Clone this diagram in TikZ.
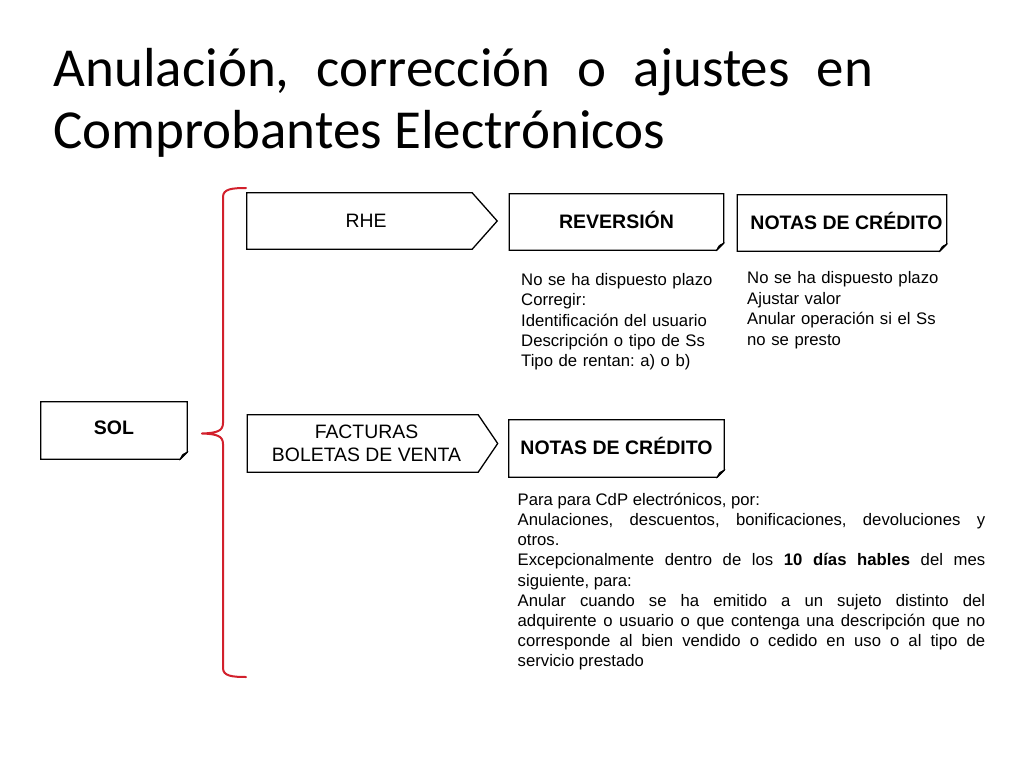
\documentclass[tikz,border=0pt]{standalone}
\usepackage{fontspec}
\setmainfont{Liberation Sans}
\newfontfamily\titlefont{Carlito}
\usetikzlibrary{calc}
\frenchspacing
\definecolor{bracered}{RGB}{210,32,44}
\tikzset{
  boxline/.style={draw=black, line width=1.3bp, line join=miter},
  headtext/.style={font=\fontsize{19.5bp}{23bp}\selectfont\bfseries, inner sep=0pt, text depth=5bp},
  arrowtext/.style={font=\fontsize{19.4bp}{23.5bp}\selectfont, inner sep=0pt, align=center},
  bodytext/.style={font=\fontsize{16.7bp}{20.4bp}\selectfont, inner sep=0pt, anchor=north west, align=left},
  titletext/.style={font=\titlefont\fontsize{55bp}{60bp}\selectfont, inner sep=0pt, anchor=base west},
  bracestyle/.style={draw=bracered, line width=2bp, line cap=round, line join=round},
}
\newcommand\drawfold[1]{%
  \draw[boxline] (#1.north west) -- (#1.north east) -- ([yshift=7bp]#1.south east) -- ([xshift=-7bp]#1.south east) -- (#1.south west) -- cycle;
  \filldraw[black, line width=0.6bp] ([xshift=-7bp]#1.south east) .. controls ([xshift=-5bp,yshift=5bp]#1.south east) .. ([yshift=7bp]#1.south east) -- cycle;
}
\newcommand\drawarrowbox[3]{%
  \draw[boxline] (#1.north west) -- ([xshift=#2]#1.north east) -- ([xshift=#3]#1.east) -- ([xshift=#2]#1.south east) -- (#1.south west) -- cycle;
}
\begin{document}
\begin{tikzpicture}[x=1bp,y=-1bp]
\fill[white] (0,0) rectangle (1024,768);
\useasboundingbox (0,0) rectangle (1024,768);

% title
\node[titletext] (t1) at (53.5,87) {\makebox[819.5bp][l]{Anulación,\hfill corrección\hfill o\hfill ajustes\hfill en}};
\node[titletext] (t2) at (53,148) {Comprobantes Electrónicos};

% boxes
\node[headtext, minimum width=146bp, minimum height=57bp] (sol) at (114,430.5) {SOL};
\drawfold{sol}

\node[arrowtext, minimum width=238bp, minimum height=56bp] (rhe) at (366,221) {RHE};
\drawarrowbox{rhe}{-13bp}{12bp}

\node[arrowtext, minimum width=238bp, minimum height=57bp] (fac) at (366.5,443.5) {FACTURAS\\BOLETAS DE VENTA};
\drawarrowbox{fac}{-7.5bp}{12bp}

\node[headtext, minimum width=214bp, minimum height=56bp] (rev) at (616.5,222) {REVERSIÓN};
\drawfold{rev}

\node[headtext, minimum width=209bp, minimum height=56bp] (nc1) at (842,223) {\hspace*{9bp}NOTAS DE CRÉDITO};
\drawfold{nc1}

\node[headtext, minimum width=215bp, minimum height=57bp] (nc2) at (616.5,448.5) {NOTAS DE CRÉDITO};
\drawfold{nc2}

% brace
\draw[bracestyle] (246,188) .. controls (232,188) and (223,189) .. (223,197) -- (223,423)
  .. controls (223,431) and (217,433) .. (202,433.5)
  .. controls (217,434) and (223,436) .. (223,444) -- (223,668)
  .. controls (223,676) and (232,677) .. (246,677);

% body texts
\node[bodytext, text width=260bp] (revtxt) at (521,271) {\rule{0pt}{14bp}No se ha dispuesto plazo\\Corregir:\\Identificación del usuario\\Descripción o tipo de Ss\\Tipo de rentan: a) o b)};

\node[bodytext, text width=260bp, font=\fontsize{16.7bp}{20.6bp}\selectfont] (nc1txt) at (747,269.3) {\rule{0pt}{14bp}No se ha dispuesto plazo\\Ajustar valor\\Anular operación si el Ss\\no se presto};

\node[bodytext, text width=467.5bp, align=justify, font=\fontsize{16.7bp}{20.2bp}\selectfont] (nc2txt) at (517.5,491) {\hyphenpenalty=10000 \tolerance=9999 \parindent=0pt
\rule{0pt}{14bp}Para para CdP electrónicos, por:\par
Anulaciones, descuentos, bonificaciones, devoluciones y\linebreak otros.\par
Excepcionalmente dentro de los \textbf{10 días hables} del mes\linebreak siguiente, para:\par
Anular cuando se ha emitido a un sujeto distinto del\linebreak adquirente o usuario o que contenga una descripción que no\linebreak corresponde al bien vendido o cedido en uso o al tipo de\linebreak servicio prestado};
\end{tikzpicture}
\end{document}
